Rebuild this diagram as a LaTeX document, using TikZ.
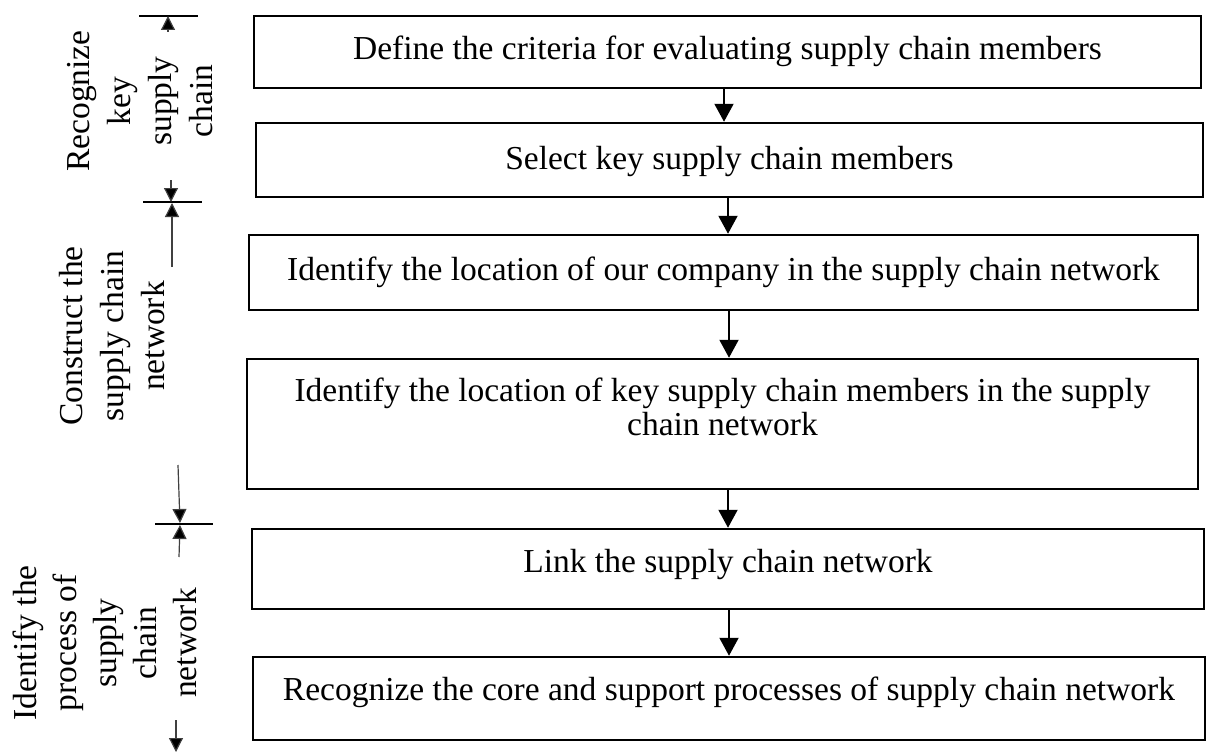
\documentclass[tikz,border=0pt]{standalone}
\usepackage{fontspec}
\setmainfont{Liberation Serif}
\usetikzlibrary{arrows.meta}
\begin{document}
\begin{tikzpicture}[x=1pt,y=-1pt,
  boxf/.style={font=\fontsize{33.5}{34}\selectfont},
  box/.style={draw, line width=2.5pt, inner sep=0pt, boxf, text height=23pt, text depth=8pt},
  arr/.style={line width=2pt, -{Triangle[length=18pt,width=19pt]}},
  side/.style={rotate=90, align=center, inner sep=0pt, font=\fontsize{33.5}{41}\selectfont},
  sarr/.style={line width=1.2pt, draw=black!75, -{Triangle[length=14pt,width=14pt,fill=black]}},
  hl/.style={line width=2.2pt}
]
\useasboundingbox (0,0) rectangle (1207,752);

% main boxes
\node[box, minimum width=947pt, minimum height=72pt] (b1) at (727.5,52)
  {Define the criteria for evaluating supply chain members};
\node[box, minimum width=947pt, minimum height=74pt, text depth=4pt] (b2) at (729.5,160)
  {Select key supply chain members};
\node[box, minimum width=949pt, minimum height=75pt] (b3) at (723.5,272.5)
  {Identify the location of our company in the supply chain network};
\node[draw, line width=2.5pt, inner sep=0pt, boxf, align=center, minimum width=951pt, minimum height=130pt] (b4) at (722.5,424)
  {Identify the location of key supply chain members in the supply\\chain network\\\mbox{}};
\node[box, minimum width=952pt, minimum height=80pt, text depth=17pt] (b5) at (728,569)
  {Link the supply chain network};
\node[box, minimum width=952pt, minimum height=83pt, text depth=20pt] (b6) at (729,698.5)
  {Recognize the core and support processes of supply chain network};

% main arrows
\draw[arr] ([xshift=-3.5pt]b1.south) -- ([xshift=-3.5pt]b1.south |- b2.north);
\draw[arr] ([xshift=-1.5pt]b2.south) -- ([xshift=-1.5pt]b2.south |- b3.north);
\draw[arr] ([xshift=5.5pt]b3.south) -- ([xshift=5.5pt]b3.south |- b4.north);
\draw[arr] ([xshift=5.5pt]b4.south) -- ([xshift=5.5pt]b4.south |- b5.north);
\draw[arr] ([xshift=1pt]b5.south) -- ([xshift=1pt]b5.south |- b6.north);

% side labels
\node[side] (l1) at (140,101) {Recognize\\key\\supply\\chain};
\node[side] (l2) at (112,336) {Construct the\\supply chain\\network};
\node[side, font=\fontsize{33.5}{40}\selectfont] (l3) at (105,643) {Identify the\\process of\\supply\\chain\\network};

% side markers
\coordinate (h1l) at (139,16); \coordinate (h1r) at (198,16);
\coordinate (u1s) at (168,32); \coordinate (u1e) at (168,16);
\coordinate (d1s) at (171,180); \coordinate (d1e) at (171,202);
\coordinate (h2l) at (143,202); \coordinate (h2r) at (202,202);
\coordinate (u2s) at (172,267); \coordinate (u2e) at (172,203);
\coordinate (d2s) at (178,465); \coordinate (d2e) at (180,523);
\coordinate (h3l) at (155,524); \coordinate (h3r) at (213,524);
\coordinate (u3s) at (179,557); \coordinate (u3e) at (180,525);
\coordinate (d3s) at (176,720); \coordinate (d3e) at (176,752);

\draw[hl] (h1l) -- (h1r);
\draw[hl] (h2l) -- (h2r);
\draw[hl] (h3l) -- (h3r);
\draw[sarr] (u1s) -- (u1e);
\draw[sarr] (d1s) -- (d1e);
\draw[sarr] (u2s) -- (u2e);
\draw[sarr] (d2s) -- (d2e);
\draw[sarr] (u3s) -- (u3e);
\draw[sarr] (d3s) -- (d3e);
\end{tikzpicture}
\end{document}
